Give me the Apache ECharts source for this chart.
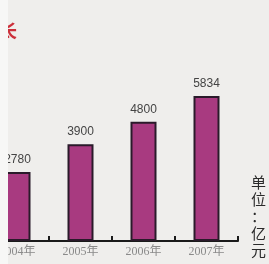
<!DOCTYPE html>
<html>
<head>
<meta charset="utf-8">
<script src="https://cdn.jsdelivr.net/npm/echarts@6/dist/echarts.min.js"></script>
<style>
html, body { margin: 0; padding: 0; background: #efeeec; overflow: hidden; }
#wrap { width: 269px; height: 264px; overflow: hidden; position: relative; }
#echart { width: 283px; height: 264px; margin-left: -14px; }
#strip { position: absolute; left: 0; top: 0; width: 8px; height: 264px; background: #f7f7f6; }
</style>
</head>
<body>
<div id="wrap">
<div id="echart"></div>
<div id="strip"></div>
</div>
<script>
var years = ['2004年', '2005年', '2006年', '2007年'];
var values = [2780, 3900, 4800, 5834];
var unitText = '单\n位\n：\n亿\n元';
var headChar = '长';

var myChart = echarts.init(document.getElementById('echart'));
var option = {
    backgroundColor: '#efeeec',
    animation: false,
    grid: {
        left: 0,
        right: 31,
        top: 92,
        bottom: 23
    },
    xAxis: {
        type: 'category',
        data: years,
        axisLine: { lineStyle: { color: '#1a1a1a', width: 2 } },
        axisTick: { show: true, inside: true, length: 5, lineStyle: { color: '#1a1a1a', width: 2 } },
        axisLabel: {
            margin: 5,
            color: '#8a8a8a',
            fontSize: 12,
            fontFamily: 'Liberation Serif, Noto Sans CJK SC'
        }
    },
    yAxis: {
        type: 'value',
        min: 0,
        max: 6000,
        show: false
    },
    series: [{
        type: 'bar',
        data: values,
        barWidth: 26,
        itemStyle: {
            color: '#a83a80',
            borderColor: '#2a1a2a',
            borderWidth: 2
        },
        label: {
            show: true,
            position: 'top',
            distance: 6,
            color: '#444',
            fontSize: 12,
            fontFamily: 'Liberation Sans'
        }
    }],
    graphic: [
        {
            type: 'text',
            left: 13,
            top: 22,
            style: { text: headChar, fill: '#cc2f3a', font: 'bold 18px "Noto Sans CJK SC"' }
        },
        {
            type: 'text',
            left: 265,
            top: 174,
            style: { text: unitText, fill: '#2a2a2a', font: '15px "Noto Sans CJK SC"', lineHeight: 17 }
        }
    ]
};
myChart.setOption(option);
window.onresize = myChart.resize;
</script>
</body>
</html>
